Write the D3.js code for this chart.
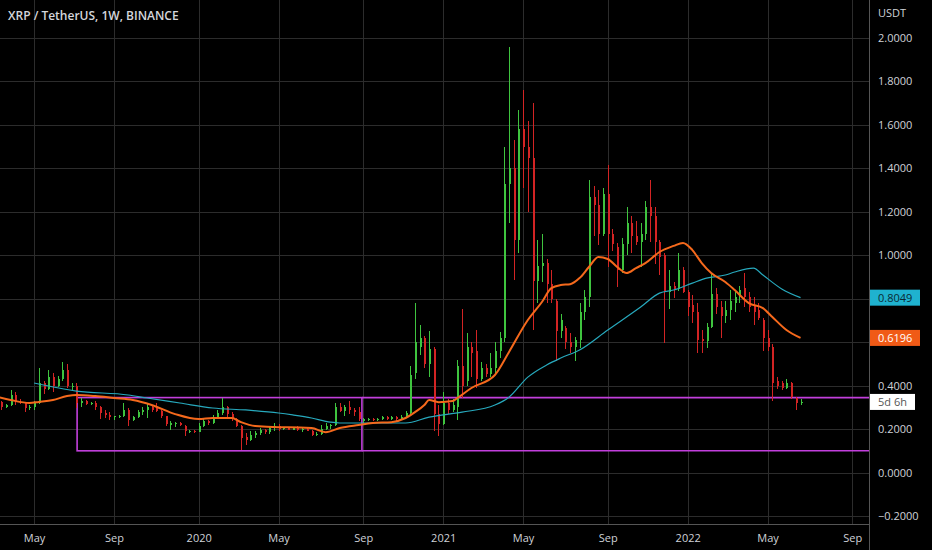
<!DOCTYPE html>
<html>
<head>
<meta charset="utf-8">
<script src="https://cdn.jsdelivr.net/npm/d3@7"></script>
<style>
  html, body { margin: 0; padding: 0; background: #000; }
  svg { display: block; font-family: "Open Sans", sans-serif; }
</style>
</head>
<body>
<div id="chart"></div>
<script>
// XRP / TetherUS weekly candles, first bar = week of 2019-03-18
const firstWeek = '2019-03-18';
const opens = [0.325,0.30,0.31,0.355,0.325,0.32,0.295,0.30,0.32,0.41,0.385,0.44,0.40,0.43,0.47,0.395,0.40,0.32,0.33,0.315,0.32,0.30,0.275,0.265,0.255,0.258,0.262,0.29,0.24,0.255,0.28,0.29,0.30,0.30,0.285,0.26,0.22,0.222,0.228,0.215,0.188,0.192,0.188,0.215,0.238,0.228,0.255,0.275,0.30,0.27,0.245,0.215,0.165,0.15,0.172,0.18,0.195,0.185,0.205,0.215,0.20,0.203,0.198,0.205,0.195,0.20,0.192,0.175,0.178,0.20,0.215,0.22,0.30,0.285,0.30,0.29,0.28,0.238,0.243,0.248,0.24,0.245,0.255,0.248,0.255,0.245,0.255,0.275,0.46,0.58,0.62,0.50,0.57,0.27,0.225,0.32,0.29,0.30,0.49,0.42,0.58,0.56,0.43,0.48,0.455,0.48,0.56,0.62,1.33,1.40,1.07,1.58,1.50,1.45,0.88,0.95,0.965,0.87,0.79,0.65,0.665,0.60,0.58,0.61,0.74,0.81,1.27,1.23,1.10,1.28,1.10,1.04,0.93,1.05,1.15,1.09,1.06,1.10,1.22,1.18,1.06,1.00,0.83,0.86,0.845,0.93,0.83,0.77,0.74,0.615,0.605,0.67,0.82,0.76,0.72,0.75,0.78,0.81,0.85,0.81,0.77,0.75,0.70,0.62,0.58,0.42,0.41,0.39,0.41,0.345,0.318];
const highs = [0.33,0.315,0.378,0.37,0.34,0.325,0.31,0.33,0.48,0.42,0.47,0.46,0.445,0.51,0.50,0.41,0.41,0.345,0.335,0.325,0.33,0.305,0.29,0.28,0.262,0.265,0.32,0.295,0.26,0.29,0.30,0.318,0.31,0.32,0.29,0.262,0.235,0.232,0.232,0.22,0.197,0.196,0.226,0.25,0.242,0.265,0.29,0.345,0.305,0.28,0.25,0.22,0.18,0.19,0.19,0.205,0.202,0.21,0.23,0.222,0.207,0.21,0.21,0.215,0.205,0.21,0.195,0.185,0.22,0.23,0.225,0.32,0.32,0.31,0.33,0.295,0.30,0.25,0.25,0.252,0.25,0.26,0.26,0.26,0.26,0.265,0.285,0.49,0.78,0.68,0.63,0.65,0.58,0.31,0.37,0.34,0.34,0.52,0.755,0.64,0.60,0.655,0.51,0.50,0.55,0.60,0.645,1.50,1.96,1.53,1.67,1.76,1.62,1.70,1.07,1.10,0.985,0.93,0.80,0.73,0.675,0.64,0.625,0.78,0.84,1.345,1.32,1.30,1.31,1.415,1.12,1.055,1.08,1.22,1.18,1.16,1.15,1.25,1.345,1.22,1.07,1.01,0.93,0.875,1.01,0.945,0.84,0.815,0.78,0.655,0.69,0.92,0.85,0.79,0.79,0.84,0.83,0.86,0.92,0.83,0.81,0.78,0.71,0.655,0.59,0.44,0.42,0.43,0.415,0.35,0.338];
const lows = [0.288,0.295,0.305,0.31,0.315,0.28,0.288,0.29,0.315,0.36,0.38,0.37,0.395,0.42,0.39,0.375,0.295,0.30,0.31,0.31,0.29,0.245,0.25,0.24,0.24,0.25,0.255,0.215,0.235,0.25,0.265,0.25,0.28,0.28,0.25,0.215,0.195,0.21,0.215,0.17,0.183,0.183,0.185,0.21,0.22,0.225,0.25,0.265,0.255,0.238,0.21,0.102,0.128,0.145,0.16,0.175,0.178,0.178,0.19,0.19,0.195,0.195,0.195,0.19,0.185,0.19,0.17,0.17,0.175,0.198,0.20,0.215,0.277,0.26,0.27,0.26,0.235,0.23,0.235,0.235,0.235,0.24,0.24,0.24,0.238,0.24,0.25,0.265,0.43,0.54,0.48,0.44,0.19,0.17,0.22,0.27,0.28,0.24,0.345,0.40,0.44,0.39,0.42,0.44,0.44,0.455,0.525,0.60,1.15,0.885,1.01,1.31,1.20,0.655,0.78,0.875,0.78,0.78,0.515,0.62,0.57,0.55,0.515,0.575,0.70,0.76,1.09,1.046,1.09,0.945,1.02,0.855,0.92,1.00,1.01,1.046,0.945,1.07,1.06,0.96,0.91,0.595,0.755,0.805,0.835,0.825,0.72,0.69,0.55,0.55,0.575,0.665,0.73,0.62,0.69,0.70,0.74,0.78,0.76,0.74,0.68,0.70,0.56,0.56,0.33,0.385,0.38,0.385,0.34,0.286,0.31];
const closes = [0.30,0.31,0.355,0.325,0.32,0.295,0.30,0.32,0.41,0.385,0.44,0.40,0.43,0.47,0.40,0.40,0.32,0.33,0.315,0.32,0.30,0.275,0.265,0.255,0.258,0.262,0.29,0.24,0.255,0.28,0.29,0.30,0.29,0.285,0.26,0.225,0.23,0.228,0.218,0.19,0.192,0.188,0.215,0.238,0.228,0.255,0.275,0.30,0.27,0.245,0.215,0.16,0.15,0.175,0.18,0.195,0.185,0.205,0.215,0.20,0.203,0.198,0.205,0.195,0.20,0.192,0.175,0.178,0.20,0.215,0.22,0.30,0.285,0.30,0.29,0.28,0.245,0.245,0.248,0.24,0.245,0.255,0.248,0.255,0.245,0.255,0.275,0.45,0.60,0.62,0.50,0.57,0.27,0.225,0.32,0.29,0.31,0.49,0.40,0.58,0.55,0.43,0.48,0.455,0.48,0.56,0.62,1.33,1.40,1.07,1.58,1.50,1.45,0.88,0.95,0.965,0.87,0.80,0.65,0.70,0.60,0.58,0.61,0.74,0.81,1.27,1.23,1.10,1.28,1.10,1.05,0.93,1.05,1.15,1.09,1.06,1.10,1.22,1.18,1.06,0.99,0.83,0.86,0.845,0.93,0.83,0.76,0.74,0.61,0.605,0.67,0.82,0.76,0.72,0.75,0.79,0.81,0.84,0.81,0.76,0.74,0.71,0.62,0.58,0.41,0.40,0.39,0.41,0.35,0.318,0.325];

// moving averages: bar index -> value
const slowMaIdx = [7,16,27,31,38,45,52,59,62,66,70,72,77,86,91,98,105,108,112,116,119,123,129,136,140,143,147,150,154,156,160,162,166,170];
const slowMa = [0.412,0.375,0.357,0.343,0.320,0.297,0.288,0.274,0.265,0.251,0.232,0.228,0.228,0.228,0.255,0.278,0.311,0.347,0.439,0.495,0.527,0.564,0.656,0.762,0.826,0.840,0.872,0.895,0.909,0.923,0.941,0.909,0.845,0.8049];
const fastMaIdx = [-1,2,6,8,11,14,16,20,24,28,32,37,42,45,49,51,54,59,61,66,69,72,76,79,83,86,88,90,91,93,96,97,100,105,108,112,115,117,119,121,123,125,127,129,131,133,135,137,140,143,145,147,149,151,154,156,159,162,164,167,170];
const fastMa = [0.349,0.334,0.320,0.325,0.334,0.352,0.357,0.352,0.343,0.334,0.311,0.269,0.246,0.251,0.251,0.232,0.214,0.209,0.209,0.205,0.186,0.205,0.219,0.228,0.232,0.251,0.278,0.311,0.334,0.324,0.329,0.343,0.389,0.449,0.555,0.702,0.785,0.849,0.863,0.867,0.895,0.946,0.992,0.983,0.946,0.918,0.941,0.964,1.015,1.043,1.057,1.024,0.964,0.918,0.877,0.840,0.780,0.757,0.716,0.656,0.6196];

// drawn box (price range) and axis ticks
const boxDates = ['2019-07-09', '2020-09-05'];
const boxPrices = [0.10, 0.345];
const priceTicks = [-0.2,0,0.2,0.4,0.6,0.8,1.0,1.2,1.4,1.6,1.8,2.0];
const monthTicks = ['2019-05-01','2019-09-01','2020-01-01','2020-05-01','2020-09-01','2021-01-01','2021-05-01','2021-09-01','2022-01-01','2022-05-01','2022-09-01'];
const countdown = '5d 6h';

const W = 932, H = 550;
const plotW = 869, plotH = 524;
const up = '#3fc43f', down = '#d32424';

const svg = d3.select('#chart').append('svg')
  .attr('width', W).attr('height', H)
  .style('background', '#000');

const x = d3.scaleUtc()
  .domain([new Date(Date.UTC(2019, 2, 16, 5)), new Date(Date.UTC(2022, 8, 29, 22))])
  .range([0, plotW]);
const y = d3.scaleLinear().domain([-0.2, 2.0]).range([516, 38]);

const start = new Date(firstWeek + 'T00:00:00Z');
const barDate = i => d3.utcDay.offset(start, i * 7);
const bars = opens.map((o, i) => ({ t: barDate(i), o, h: highs[i], l: lows[i], c: closes[i] }));

// grid
const tickDates = monthTicks.map(s => d3.utcMonday.ceil(new Date(s + 'T00:00:00Z')));
const grid = svg.append('g').attr('stroke', '#2c2c2c').attr('shape-rendering', 'crispEdges');
grid.selectAll('line.h').data(priceTicks).join('line')
  .attr('x1', 0).attr('x2', plotW)
  .attr('y1', d => Math.round(y(d)) + 0.5).attr('y2', d => Math.round(y(d)) + 0.5);
grid.selectAll('line.v').data(tickDates).join('line')
  .attr('y1', 0).attr('y2', plotH)
  .attr('x1', d => Math.round(x(d)) + 0.5).attr('x2', d => Math.round(x(d)) + 0.5);

svg.append('clipPath').attr('id', 'plot')
  .append('rect').attr('width', plotW).attr('height', plotH);
const plot = svg.append('g').attr('clip-path', 'url(#plot)');

// box drawing
const purple = '#c23fdc';
const bx0 = x(new Date(boxDates[0])), bx1 = x(new Date(boxDates[1]));
plot.append('rect')
  .attr('x', bx0).attr('y', y(boxPrices[1]))
  .attr('width', bx1 - bx0).attr('height', y(boxPrices[0]) - y(boxPrices[1]))
  .attr('fill', 'none').attr('stroke', purple).attr('stroke-width', 1.6);
plot.selectAll('line.ext').data(boxPrices).join('line')
  .attr('x1', bx1).attr('x2', plotW)
  .attr('y1', d => y(d)).attr('y2', d => y(d))
  .attr('stroke', purple).attr('stroke-width', 1.6);

// candles
const cg = plot.append('g').attr('shape-rendering', 'crispEdges');
cg.selectAll('line').data(bars).join('line')
  .attr('x1', d => Math.round(x(d.t)) + 0.5).attr('x2', d => Math.round(x(d.t)) + 0.5)
  .attr('y1', d => y(d.h)).attr('y2', d => y(d.l))
  .attr('stroke', d => d.c >= d.o ? up : down).attr('stroke-width', 1);
cg.selectAll('rect').data(bars).join('rect')
  .attr('x', d => Math.round(x(d.t)) - 0.5).attr('width', 2)
  .attr('y', d => y(Math.max(d.o, d.c)))
  .attr('height', d => Math.max(1, Math.abs(y(d.o) - y(d.c))))
  .attr('fill', d => d.c >= d.o ? up : down);

// moving averages
const maLine = d3.line().x(d => x(barDate(d[0]))).y(d => y(d[1])).curve(d3.curveMonotoneX);
plot.append('path').datum(slowMaIdx.map((k, i) => [k, slowMa[i]]))
  .attr('d', maLine).attr('fill', 'none').attr('stroke', '#27a9bd').attr('stroke-width', 1.2);
plot.append('path').datum(fastMaIdx.map((k, i) => [k, fastMa[i]]))
  .attr('d', maLine).attr('fill', 'none').attr('stroke', '#f5691c').attr('stroke-width', 2);

// axes frame
svg.append('line').attr('x1', plotW + 0.5).attr('x2', plotW + 0.5).attr('y1', 0).attr('y2', H)
  .attr('stroke', '#555').attr('shape-rendering', 'crispEdges');
svg.append('line').attr('x1', 0).attr('x2', plotW).attr('y1', plotH + 0.5).attr('y2', plotH + 0.5)
  .attr('stroke', '#555').attr('shape-rendering', 'crispEdges');

// axis tags: last values of the two averages and the bar countdown
const tags = [
  { v: slowMa[slowMa.length - 1], text: d3.format('.4f')(slowMa[slowMa.length - 1]), bg: '#1fb2cf', fg: '#0b2a33', w: 50 },
  { v: fastMa[fastMa.length - 1], text: d3.format('.4f')(fastMa[fastMa.length - 1]), bg: '#f05a16', fg: '#ffffff', w: 50 },
  { v: closes[closes.length - 1], text: countdown, bg: '#ffffff', fg: '#555', w: 45 }
];
// tick labels hidden behind a tag are not drawn (as on the reference)
const freeTicks = priceTicks.filter(t => tags.every(g => Math.abs(y(t) - y(g.v)) > 13));

const yAxis = d3.axisRight(y).tickValues(freeTicks).tickSize(0).tickPadding(9)
  .tickFormat(d3.format('.4f'));
svg.append('g').attr('transform', `translate(${plotW},0)`).call(yAxis)
  .call(g => g.select('.domain').remove())
  .call(g => g.selectAll('text').attr('fill', '#cfd2d8').style('font-size', '11px').attr('font-family', '"Open Sans", sans-serif'));

const xAxis = d3.axisBottom(x).tickValues(tickDates).tickSize(0).tickPadding(10)
  .tickFormat(d => d.getUTCMonth() === 0 ? d3.utcFormat('%Y')(d) : d3.utcFormat('%b')(d));
svg.append('g').attr('transform', `translate(0,${plotH})`).call(xAxis)
  .call(g => g.select('.domain').remove())
  .call(g => g.selectAll('text').attr('fill', '#cfd2d8').style('font-size', '11px').attr('font-family', '"Open Sans", sans-serif'));

svg.append('text').attr('x', plotW + 9).attr('y', 17).text('USDT')
  .attr('fill', '#cfd2d8').style('font-size', '11px');

tags.forEach(g => {
  const cy = y(g.v);
  svg.append('rect').attr('x', plotW + 1).attr('y', cy - 8).attr('width', g.w).attr('height', 16)
    .attr('fill', g.bg);
  svg.append('text').attr('x', plotW + 9).attr('y', cy + 4).text(g.text)
    .attr('fill', g.fg).style('font-size', '11px');
});

// title
svg.append('text').attr('x', 8).attr('y', 20).text('XRP / TetherUS, 1W, BINANCE')
  .attr('fill', '#d4d6dc').style('font-size', '12px').style('font-weight', 600);
</script>
</body>
</html>
